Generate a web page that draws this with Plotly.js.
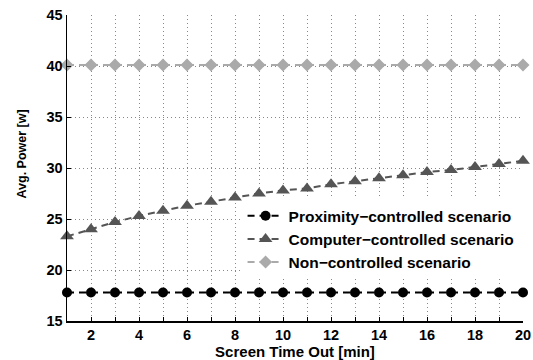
<!DOCTYPE html>
<html><head><meta charset="utf-8">
<script src="https://cdn.plot.ly/plotly-3.0.1.min.js"></script>
<style>html,body{margin:0;padding:0;background:#fff}#c{width:533px;height:360px}</style>
</head><body><div id="c"></div>
<script>
var timeout = [1,2,3,4,5,6,7,8,9,10,11,12,13,14,15,16,17,18,19,20];
var proximity = [17.8,17.8,17.8,17.8,17.8,17.8,17.8,17.8,17.8,17.8,17.8,17.8,17.8,17.8,17.8,17.8,17.8,17.8,17.8,17.8];
var computer = [23.3,24.0,24.7,25.3,25.8,26.3,26.7,27.1,27.5,27.8,28.0,28.4,28.7,29.0,29.3,29.6,29.8,30.1,30.4,30.7];
var noncontrolled = [40.1,40.1,40.1,40.1,40.1,40.1,40.1,40.1,40.1,40.1,40.1,40.1,40.1,40.1,40.1,40.1,40.1,40.1,40.1,40.1];
var names = ['Proximity\u2212controlled scenario','Computer\u2212controlled scenario','Non\u2212controlled scenario'];
var xTicks = [2,4,6,8,10,12,14,16,18,20];
var yTicks = [15,20,25,30,35,40,45];
var xTitle = 'Screen Time Out [min]';
var yTitle = 'Avg. Power [w]';

function b(s){ return '<b>' + s + '</b>'; }
function tr(y, name, color, sym, size){
  return {x: timeout, y: y, name: b(name), type:'scatter', mode:'lines+markers',
    line:{color:color, width:2, dash:'7px,5px'},
    marker:{color:color, symbol:sym, size:size}, cliponaxis:false};
}
var data = [
  tr(proximity, names[0], '#000000', 'circle', 10),
  tr(computer, names[1], '#555555', 'triangle-up', 12),
  tr(noncontrolled, names[2], '#aaaaaa', 'diamond', 10)
];
var FF = 'Liberation Sans, Arial, sans-serif';
var layout = {
  width:533, height:360,
  margin:{l:67, r:10, t:15, b:39},
  paper_bgcolor:'#fff', plot_bgcolor:'#fff',
  font: {family:FF, size:13, color:'#000'},
  showlegend:true,
  legend:{x:0.385, xanchor:'left', y:0.398, yanchor:'top', bgcolor:'#fff',
    font:{family:FF, size:15.5, color:'#000'},
    tracegroupgap:0, itemwidth:36},
  xaxis:{range:[1,20], tickmode:'array', tickvals:xTicks, ticktext:xTicks.map(b),
    ticks:'inside', ticklen:4, tickcolor:'#000',
    showline:true, linecolor:'#000', linewidth:1.5, zeroline:false,
    showgrid:true, gridcolor:'#888', griddash:'1px,3px', gridwidth:1,
    minor:{dtick:1, tick0:1, ticks:'inside', ticklen:4, tickcolor:'#000', showgrid:true, gridcolor:'#888', griddash:'1px,3px', gridwidth:1},
    tickfont:{family:FF, size:14.5, color:'#000'},
    title:{text:b(xTitle), standoff:0, font:{family:FF, size:15, color:'#000'}}},
  yaxis:{range:[15,45], tickmode:'array', tickvals:yTicks, ticktext:yTicks.map(b),
    ticks:'inside', ticklen:4, tickcolor:'#000',
    showline:true, linecolor:'#000', linewidth:1.5, zeroline:false,
    showgrid:true, gridcolor:'#888', griddash:'1px,3px', gridwidth:1,
    tickfont:{family:FF, size:14.5, color:'#000'}},
  annotations:[{text:b(yTitle), xref:'paper', yref:'paper', x:-0.099, y:0.547,
    xanchor:'center', yanchor:'middle', textangle:-90, showarrow:false,
    font:{family:FF, size:12.5, color:'#000'}}]
};
Plotly.newPlot('c', data, layout, {displayModeBar:false, staticPlot:true});
</script></body></html>
